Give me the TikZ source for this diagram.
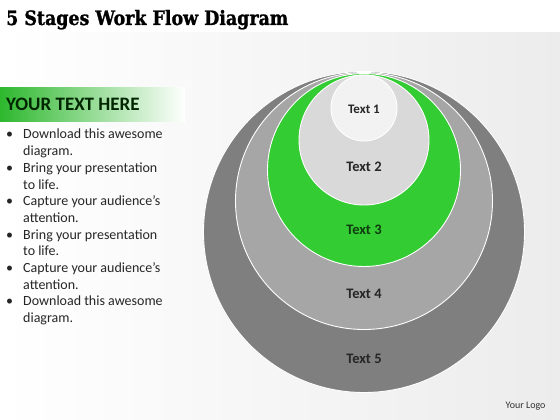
\documentclass[tikz,border=0pt]{standalone}
\usepackage{fontspec}
\setmainfont{Carlito}
\newfontfamily\titlefont[FakeStretch=0.88, BoldFeatures={FakeBold=1.2}]{DejaVu Serif}
\usetikzlibrary{shadings}

\definecolor{stageone}{HTML}{F2F2F2}
\definecolor{stagetwo}{HTML}{D9D9D9}
\definecolor{stagethree}{HTML}{33CC33}
\definecolor{stagefour}{HTML}{A6A6A6}
\definecolor{stagefive}{HTML}{7F7F7F}
\definecolor{bannergreen}{HTML}{2EB82E}
\definecolor{textgreen}{HTML}{0F3C0F}
\definecolor{bggray}{HTML}{ECECEC}

\tikzset{
  stage/.style={circle, draw=white, line width=0.9pt, inner sep=0pt},
  stagelabel/.style={font=\bfseries\fontsize{14.5}{16}\selectfont, text=black!85}
}

\begin{document}
\begin{tikzpicture}[x=1pt, y=-1pt, every node/.style={align=center}]
\useasboundingbox (0,0) rectangle (560,420);
\fill[white] (0,0) rectangle (560,420);
\shade[left color=white, right color=bggray] (0,33) rectangle (560,420);

% title
\node (title) [anchor=base west, inner sep=0pt, font=\titlefont\bfseries\fontsize{19.8}{23}\selectfont] at (6,25) {5 Stages Work Flow Diagram};

% left text panel
\node (banner) [anchor=north west, minimum width=185pt, minimum height=34pt, inner sep=0pt,
  left color=bannergreen, middle color=bannergreen!75, right color=white] at (0,87) {};
\node (heading) [anchor=west, inner sep=0pt, text=black!85!green, font=\bfseries\fontsize{19}{22}\selectfont] at (6,104) {YOUR TEXT HERE};
\node (points) [anchor=north west, inner sep=0pt, align=left, text=black!85, font=\fontsize{14}{16.7}\selectfont] at (6,129) {%
  \makebox[17pt][l]{\textbullet}Download this awesome\\ \hspace*{17pt}diagram.\\
  \makebox[17pt][l]{\textbullet}Bring your presentation\\ \hspace*{17pt}to life.\\
  \makebox[17pt][l]{\textbullet}Capture your audience’s\\ \hspace*{17pt}attention.\\
  \makebox[17pt][l]{\textbullet}Bring your presentation\\ \hspace*{17pt}to life.\\
  \makebox[17pt][l]{\textbullet}Capture your audience’s\\ \hspace*{17pt}attention.\\
  \makebox[17pt][l]{\textbullet}Download this awesome\\ \hspace*{17pt}diagram.};

% nested stages
\node (stage5) [stage, fill=stagefive, minimum size=321pt] at (364,232) {};
\node (stage4) [stage, fill=stagefour, minimum size=257pt] at (364,201) {};
\node (stage3) [stage, fill=stagethree, minimum size=193pt] at (364,170) {};
\node (stage2) [stage, fill=stagetwo, minimum size=130pt] at (364,140) {};
\node (stage1) [stage, fill=stageone, minimum size=66pt] at (364,108) {};

\node (text1) [stagelabel, font=\bfseries\fontsize{13}{15}\selectfont] at (364,109) {Text 1};
\node (text2) [stagelabel] at (364,167) {Text 2};
\node (text3) [stagelabel, text=textgreen] at (364,230) {Text 3};
\node (text4) [stagelabel] at (364,294) {Text 4};
\node (text5) [stagelabel] at (364,359) {Text 5};

\node (logo) [anchor=east, text=black!80, font=\fontsize{10}{12}\selectfont] at (549,406) {Your Logo};
\end{tikzpicture}
\end{document}
